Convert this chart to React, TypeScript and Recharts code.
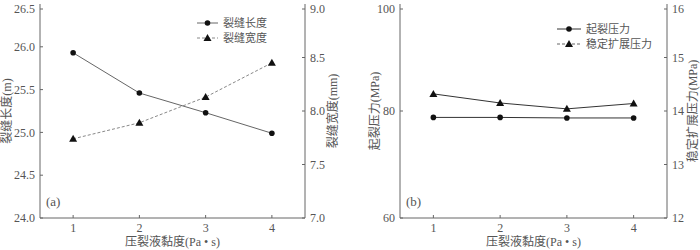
import { LineChart, Line, XAxis, YAxis, Legend } from "recharts";

// 压裂液黏度 (Pa·s)
const viscosity = [1, 2, 3, 4];
// (a) 裂缝长度 (m) / 裂缝宽度 (mm)
const crackLength = [25.93, 25.46, 25.23, 24.99];
const crackWidth = [7.74, 7.89, 8.13, 8.45];
// (b) 起裂压力 (MPa) / 稳定扩展压力 (MPa)
const initPressure = [78.8, 78.8, 78.7, 78.7];
const propPressure = [14.32, 14.15, 14.04, 14.14];

const ticksA_left = [24.0, 24.5, 25.0, 25.5, 26.0, 26.5];
const ticksA_right = [7.0, 7.5, 8.0, 8.5, 9.0];
const ticksB_left = [60, 80, 100];
const ticksB_right = [12, 13, 14, 15, 16];

const FONT = "'Liberation Serif', 'Noto Sans CJK SC', serif";
const TEXT = "#555";
const AXIS = "#666";
const TICK_LEN = 3;

const dataA = viscosity.map((v, i) => ({ x: v, len: crackLength[i], wid: crackWidth[i] }));
const dataB = viscosity.map((v, i) => ({ x: v, init: initPressure[i], prop: propPressure[i] }));

const fmt1 = (v: number) => v.toFixed(1);
const fmt0 = (v: number) => String(v);

function makeTick(side: "left" | "right" | "bottom", fmt: (v: number) => string) {
  return (props: any) => {
    const { x, y, payload } = props;
    const label = fmt(payload.value);
    const common = { fill: TEXT, fontSize: 12, fontFamily: FONT };
    if (side === "left") {
      return (
        <g>
          <line x1={x} x2={x + TICK_LEN} y1={y} y2={y} stroke={AXIS} />
          <text x={x - 5} y={y} dy="0.35em" textAnchor="end" {...common}>{label}</text>
        </g>
      );
    }
    if (side === "right") {
      return (
        <g>
          <line x1={x} x2={x - TICK_LEN} y1={y} y2={y} stroke={AXIS} />
          <text x={x + 5} y={y} dy="0.35em" textAnchor="start" {...common}>{label}</text>
        </g>
      );
    }
    return (
      <g>
        <line x1={x} x2={x} y1={y} y2={y - TICK_LEN} stroke={AXIS} />
        <text x={x} y={y + 10} dy="0.35em" textAnchor="middle" {...common}>{label}</text>
      </g>
    );
  };
}

const Circle = (props: any) => {
  const { cx, cy } = props;
  if (cx == null || cy == null) return null;
  return <circle cx={cx} cy={cy} r={2.8} fill="#111" />;
};

const Triangle = (props: any) => {
  const { cx, cy } = props;
  if (cx == null || cy == null) return null;
  return <polygon points={`${cx},${cy - 4} ${cx - 4},${cy + 3} ${cx + 4},${cy + 3}`} fill="#111" />;
};

function yTitle(text: string, side: "left" | "right", inset: number) {
  return (p: any) => {
    const vb = p.viewBox;
    const cx = side === "left" ? vb.x + inset : vb.x + vb.width - inset;
    const cy = vb.y + vb.height / 2;
    return (
      <text
        transform={`translate(${cx},${cy}) rotate(-90)`}
        textAnchor="middle"
        dominantBaseline="central"
        fill={TEXT}
        fontSize={12}
        fontFamily={FONT}
      >
        {text}
      </text>
    );
  };
}

const xTitle = (p: any) => {
  const vb = p.viewBox;
  return (
    <text x={vb.x + vb.width / 2} y={vb.y + 24} dy="0.35em" textAnchor="middle" fill={TEXT} fontSize={12} fontFamily={FONT}>
      压裂液黏度(Pa • s)
    </text>
  );
};

type LegendItem = { name: string; dash?: string; color: string; marker: "circle" | "triangle" };

function makeLegend(items: LegendItem[], lineW: number) {
  return () => (
    <svg width={140} height={34} style={{ display: "block" }}>
      {items.map((it, i) => {
        const y = 8 + i * 15;
        const mx = lineW / 2;
        return (
          <g key={it.name}>
            <line x1={0} x2={lineW} y1={y} y2={y} stroke={it.color} strokeDasharray={it.dash} />
            {it.marker === "circle" ? <Circle cx={mx} cy={y} /> : <Triangle cx={mx} cy={y} />}
            <text x={lineW + 5} y={y} dy="0.35em" fill={TEXT} fontSize={11} fontFamily={FONT}>{it.name}</text>
          </g>
        );
      })}
    </svg>
  );
}

function PanelLabel({ text, x }: { text: string; x: number }) {
  return (
    <div style={{ position: "absolute", left: x, top: 194, fontFamily: FONT, fontSize: 13, color: TEXT }}>{text}</div>
  );
}

export default function App() {
  return (
    <div style={{ position: "absolute", left: 0, top: 0, width: 700, height: 250, background: "#fff" }}>
      <div style={{ position: "absolute", left: 0, top: 0 }}>
        <LineChart width={350} height={250} data={dataA} margin={{ top: 4, right: 0, bottom: 0, left: 0 }}>
          <XAxis
            dataKey="x" type="number" domain={[0.5, 4.5]} ticks={viscosity}
            height={32} stroke={AXIS} tickSize={0} tickMargin={0}
            tick={makeTick("bottom", fmt0)} label={xTitle}
          />
          <XAxis xAxisId="top" dataKey="x" type="number" domain={[0.5, 4.5]} orientation="top" height={0} tick={false} tickLine={false} stroke={AXIS} />
          <YAxis
            yAxisId="l" domain={[24, 26.5]} ticks={ticksA_left} width={40} stroke={AXIS}
            tickSize={0} tickMargin={0} tick={makeTick("left", fmt1)} label={yTitle("裂缝长度(m)", "left", 7)}
          />
          <YAxis
            yAxisId="r" orientation="right" domain={[7, 9]} ticks={ticksA_right} width={45} stroke={AXIS}
            tickSize={0} tickMargin={0} tick={makeTick("right", fmt1)} label={yTitle("裂缝宽度(mm)", "right", 17)}
          />
          <Line yAxisId="l" dataKey="len" name="裂缝长度" stroke="#666" strokeWidth={1} dot={<Circle />} activeDot={false} isAnimationActive={false} />
          <Line yAxisId="r" dataKey="wid" name="裂缝宽度" stroke="#888" strokeWidth={1} strokeDasharray="3 2" dot={<Triangle />} activeDot={false} isAnimationActive={false} />
          <Legend
            layout="vertical" align="center" verticalAlign="middle"
            wrapperStyle={{ left: 197, top: 15, width: 140 }}
            content={makeLegend([
              { name: "裂缝长度", color: "#666", marker: "circle" },
              { name: "裂缝宽度", color: "#888", dash: "3 2", marker: "triangle" },
            ], 21)}
          />
        </LineChart>
        <PanelLabel text="(a)" x={46} />
      </div>
      <div style={{ position: "absolute", left: 350, top: 0 }}>
        <LineChart width={350} height={250} data={dataB} margin={{ top: 4, right: 0, bottom: 0, left: 0 }}>
          <XAxis
            dataKey="x" type="number" domain={[0.5, 4.5]} ticks={viscosity}
            height={32} stroke={AXIS} tickSize={0} tickMargin={0}
            tick={makeTick("bottom", fmt0)} label={xTitle}
          />
          <XAxis xAxisId="top" dataKey="x" type="number" domain={[0.5, 4.5]} orientation="top" height={0} tick={false} tickLine={false} stroke={AXIS} />
          <YAxis
            yAxisId="l" domain={[60, 100]} ticks={ticksB_left} width={50} stroke={AXIS}
            tickSize={0} tickMargin={0} tick={makeTick("left", fmt0)} label={yTitle("起裂压力(MPa)", "left", 25)}
          />
          <YAxis
            yAxisId="r" orientation="right" domain={[12, 16]} ticks={ticksB_right} width={33} stroke={AXIS}
            tickSize={0} tickMargin={0} tick={makeTick("right", fmt0)} label={yTitle("稳定扩展压力(MPa)", "right", 7)}
          />
          <Line yAxisId="l" dataKey="init" name="起裂压力" stroke="#333" strokeWidth={1} dot={<Circle />} activeDot={false} isAnimationActive={false} />
          <Line yAxisId="r" dataKey="prop" name="稳定扩展压力" stroke="#333" strokeWidth={1} dot={<Triangle />} activeDot={false} isAnimationActive={false} />
          <Legend
            layout="vertical" align="center" verticalAlign="middle"
            wrapperStyle={{ left: 207, top: 21, width: 140 }}
            content={makeLegend([
              { name: "起裂压力", color: "#333", marker: "circle" },
              { name: "稳定扩展压力", color: "#666", dash: "3 2", marker: "triangle" },
            ], 24)}
          />
        </LineChart>
        <PanelLabel text="(b)" x={56} />
      </div>
    </div>
  );
}
